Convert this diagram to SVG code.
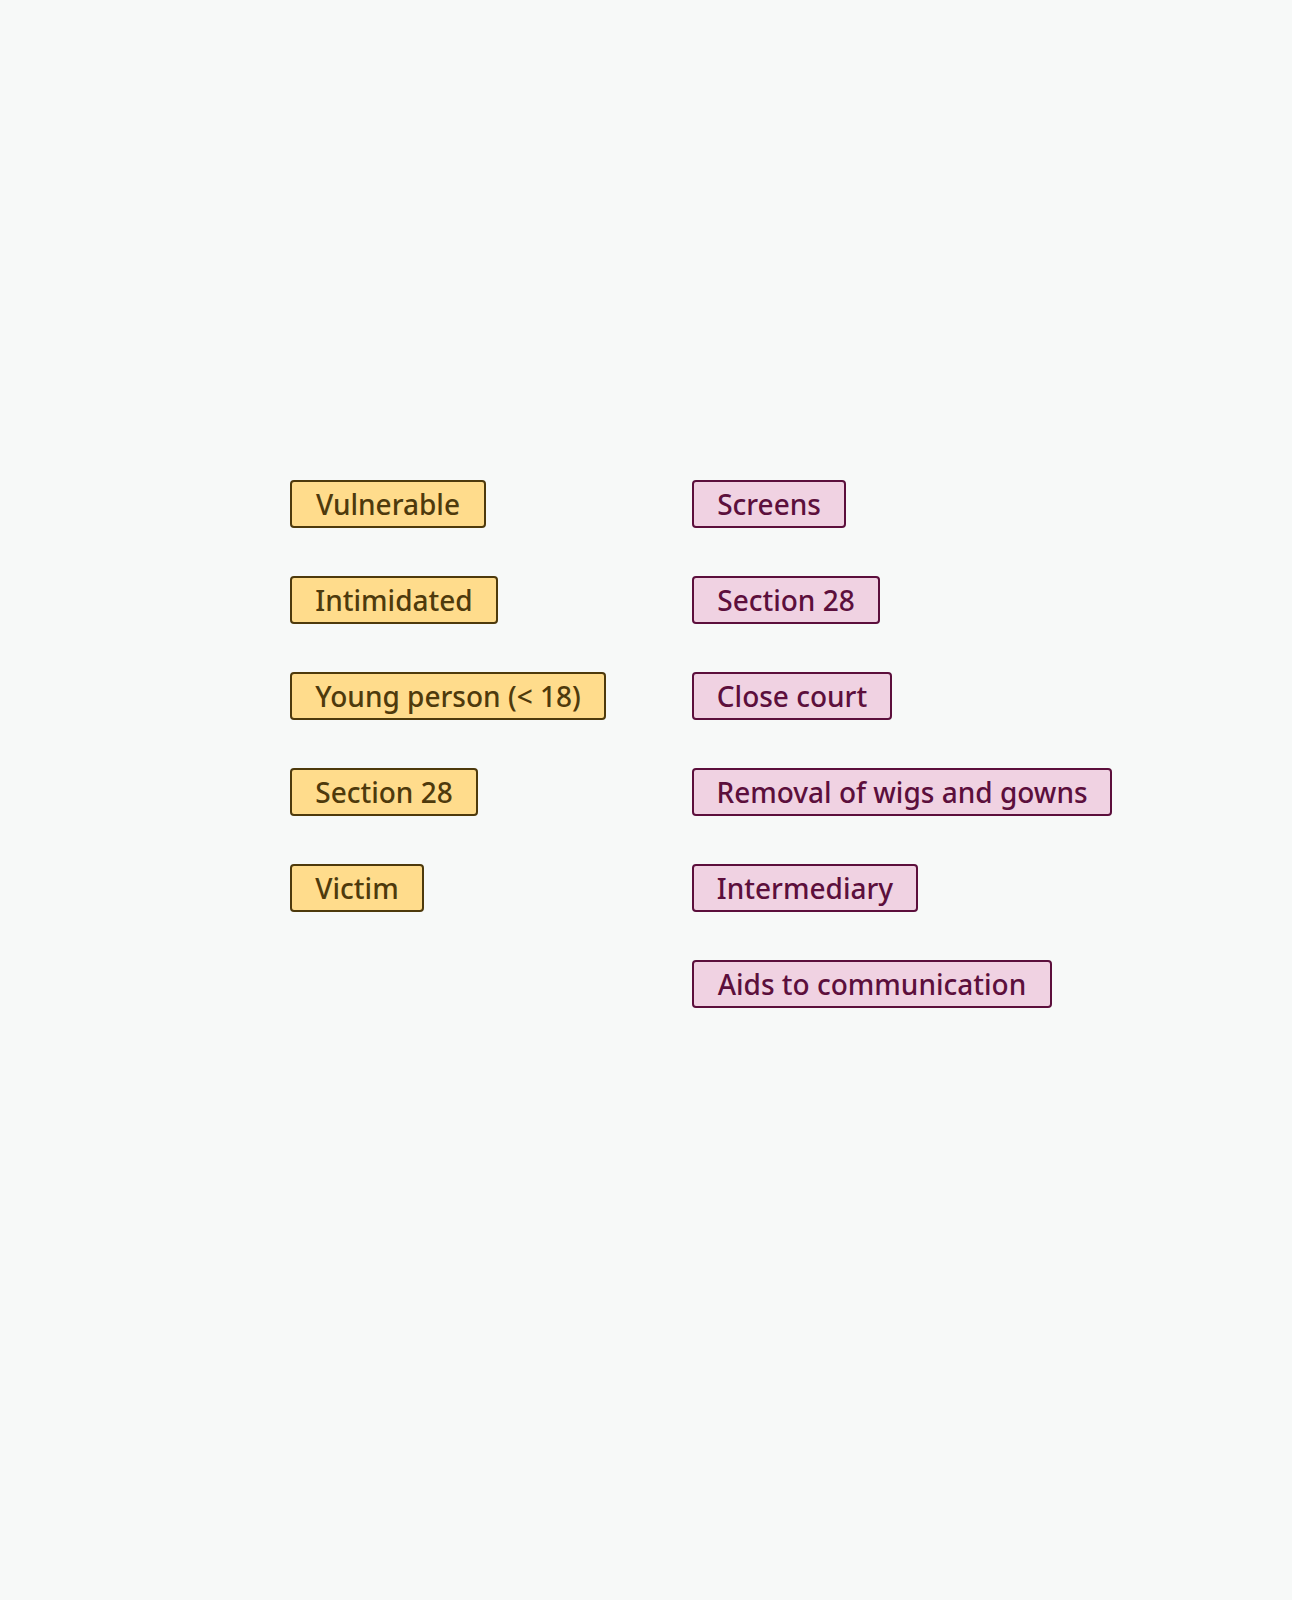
<svg xmlns="http://www.w3.org/2000/svg" width="1292" height="1600" viewBox="0 0 1292 1600">
<style>
.bg{fill:#f7f9f8}
.y rect{fill:#ffdc8c;stroke:#4e3a0c;stroke-width:2}
.p rect{fill:#f0d2e2;stroke:#5c0f3c;stroke-width:2}
text{font-family:"Noto Sans","Open Sans","Liberation Sans",sans-serif;font-size:28px;font-weight:500;text-anchor:middle}
.y text{fill:#4e3a0c}
.p text{fill:#5c0f3c}
</style>
<rect class="bg" x="0" y="0" width="1292" height="1600"/>
<g id="connectors"/>
<g id="n-vulnerable" class="y"><rect x="291" y="481" width="194" height="46" rx="3"/><text x="388" y="515">Vulnerable</text></g>
<g id="n-intimidated" class="y"><rect x="291" y="577" width="206" height="46" rx="3"/><text x="394" y="611">Intimidated</text></g>
<g id="n-young" class="y"><rect x="291" y="673" width="314" height="46" rx="3"/><text x="448" y="707">Young person (&lt; 18)</text></g>
<g id="n-section28a" class="y"><rect x="291" y="769" width="186" height="46" rx="3"/><text x="384" y="803">Section 28</text></g>
<g id="n-victim" class="y"><rect x="291" y="865" width="132" height="46" rx="3"/><text x="357" y="899">Victim</text></g>
<g id="n-screens" class="p"><rect x="693" y="481" width="152" height="46" rx="3"/><text x="769" y="515">Screens</text></g>
<g id="n-section28b" class="p"><rect x="693" y="577" width="186" height="46" rx="3"/><text x="786" y="611">Section 28</text></g>
<g id="n-close" class="p"><rect x="693" y="673" width="198" height="46" rx="3"/><text x="792" y="707">Close court</text></g>
<g id="n-removal" class="p"><rect x="693" y="769" width="418" height="46" rx="3"/><text x="902" y="803">Removal of wigs and gowns</text></g>
<g id="n-intermediary" class="p"><rect x="693" y="865" width="224" height="46" rx="3"/><text x="805" y="899">Intermediary</text></g>
<g id="n-aids" class="p"><rect x="693" y="961" width="358" height="46" rx="3"/><text x="872" y="995">Aids to communication</text></g>
</svg>
